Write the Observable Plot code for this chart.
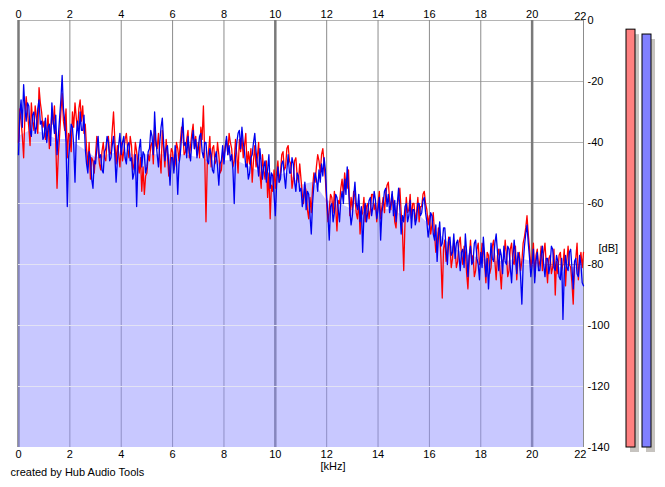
<!DOCTYPE html>
<html><head><meta charset="utf-8">
<script src="https://cdn.jsdelivr.net/npm/d3@7"></script>
<script src="https://cdn.jsdelivr.net/npm/@observablehq/plot@0.6"></script>
<style>
html,body{margin:0;padding:0;background:#fff;}
#wrap{position:relative;width:665px;height:487px;overflow:hidden;background:#fff;}
#wrap svg{position:absolute;top:0;}
</style></head><body><div id="wrap"></div>
<script>
// frequency bin spacing (kHz)
const binKHz = 0.05;
// red trace (left channel), dB, one value per 0.05 kHz from 0 to 22 kHz (one row per kHz)
const leftDb = [
 -40,-29,-33,-38,-45,-31,-25,-30,-35,-41,-27,-33,-36,-28,-32,-37,-22,-27,-30,-35,
 -33,-39,-36,-31,-42,-37,-30,-34,-28,-40,-55,-44,-38,-30,-24,-33,-36,-29,-45,-37,
 -38,-43,-30,-35,-27,-32,-36,-29,-26,-33,-28,-37,-34,-42,-48,-40,-52,-45,-46,-50,
 -44,-38,-42,-47,-49,-43,-40,-45,-46,-39,-38,-44,-43,-36,-30,-39,-47,-41,-44,-48,
 -40,-46,-43,-39,-37,-42,-45,-38,-41,-49,-47,-40,-43,-47,-50,-45,-56,-48,-57,-51,
 -50,-44,-46,-41,-40,-47,-35,-41,-42,-37,-45,-50,-36,-42,-48,-39,-44,-51,-47,-42,
 -43,-49,-47,-40,-42,-46,-40,-35,-37,-44,-43,-39,-36,-45,-41,-37,-34,-42,-38,-44,
 -40,-45,-35,-39,-28,-44,-66,-47,-43,-38,-48,-42,-41,-47,-46,-40,-44,-50,-49,-43,
 -45,-41,-39,-44,-37,-40,-42,-48,-46,-39,-44,-50,-39,-43,-38,-45,-41,-37,-48,-43,
 -47,-42,-53,-46,-41,-48,-45,-40,-50,-55,-44,-49,-52,-46,-58,-50,-65,-54,-56,-49,
 -55,-50,-46,-53,-50,-44,-43,-49,-48,-42,-41,-46,-47,-55,-52,-46,-45,-51,-53,-47,
 -52,-57,-60,-54,-56,-62,-65,-58,-63,-55,-50,-53,-48,-44,-46,-50,-44,-42,-47,-52,
 -60,-66,-62,-57,-58,-63,-56,-61,-69,-59,-60,-55,-52,-57,-50,-54,-55,-49,-64,-58,
 -62,-56,-58,-63,-65,-59,-70,-64,-63,-58,-66,-61,-60,-65,-62,-57,-57,-62,-60,-66,
 -60,-56,-65,-61,-58,-63,-57,-54,-53,-59,-62,-57,-60,-66,-68,-61,-58,-55,-63,-69,
 -82,-66,-58,-63,-62,-57,-65,-60,-60,-66,-63,-58,-66,-61,-61,-57,-56,-60,-62,-67,
 -64,-70,-67,-63,-70,-76,-74,-68,-70,-78,-91,-75,-72,-79,-77,-71,-74,-81,-78,-72,
 -75,-81,-79,-73,-71,-77,-80,-74,-76,-83,-88,-78,-72,-79,-77,-84,-82,-75,-73,-80,
 -79,-73,-74,-80,-86,-76,-77,-83,-81,-74,-72,-79,-85,-77,-75,-82,-88,-79,-78,-72,
 -77,-84,-82,-75,-73,-79,-80,-74,-85,-78,-76,-82,-79,-73,-71,-68,-64,-70,-75,-81,
 -78,-73,-84,-77,-75,-81,-79,-74,-82,-76,-73,-80,-86,-78,-77,-83,-81,-75,-90,-79,
 -83,-77,-76,-82,-80,-75,-87,-79,-74,-80,-81,-86,-93,-80,-78,-73,-85,-79,-76,-81,
 -76
];
// blue trace (right channel)
const rightDb = [
 -44,-31,-26,-35,-21,-29,-33,-27,-28,-36,-38,-31,-30,-37,-35,-29,-26,-34,-33,-39,
 -38,-32,-40,-35,-34,-41,-27,-33,-37,-31,-44,-38,-32,-26,-18,-29,-33,-40,-61,-45,
 -40,-34,-35,-41,-53,-38,-33,-39,-30,-36,-36,-31,-42,-47,-50,-43,-45,-52,-55,-46,
 -47,-42,-38,-45,-44,-49,-50,-43,-42,-38,-40,-46,-45,-41,-38,-44,-53,-46,-41,-37,
 -44,-40,-38,-45,-47,-41,-40,-46,-45,-52,-50,-44,-61,-47,-42,-39,-48,-43,-44,-50,
 -48,-43,-42,-36,-38,-44,-30,-39,-44,-48,-40,-35,-32,-40,-46,-42,-41,-47,-54,-45,
 -45,-50,-41,-46,-57,-47,-44,-38,-32,-41,-40,-45,-38,-43,-46,-40,-36,-42,-39,-45,
 -42,-38,-37,-43,-45,-40,-40,-46,-47,-42,-44,-49,-50,-45,-43,-48,-54,-47,-46,-41,
 -47,-42,-38,-44,-41,-46,-44,-49,-60,-45,-40,-37,-36,-42,-35,-40,-43,-48,-47,-52,
 -50,-45,-44,-40,-37,-43,-47,-51,-42,-47,-52,-48,-46,-53,-49,-44,-55,-50,-51,-57,
 -64,-54,-48,-53,-52,-47,-46,-51,-55,-49,-44,-50,-50,-45,-47,-53,-56,-50,-51,-56,
 -55,-61,-58,-53,-62,-56,-57,-64,-70,-60,-54,-50,-52,-56,-49,-53,-47,-51,-45,-49,
 -58,-64,-72,-61,-60,-66,-63,-57,-58,-62,-66,-59,-56,-60,-52,-57,-48,-55,-62,-67,
 -64,-58,-53,-60,-62,-57,-66,-61,-76,-64,-60,-66,-63,-59,-58,-64,-61,-56,-59,-65,
 -62,-58,-72,-63,-60,-56,-55,-61,-57,-63,-60,-56,-64,-59,-66,-60,-55,-62,-70,-64,
 -66,-61,-60,-66,-64,-59,-68,-62,-62,-67,-65,-60,-60,-64,-63,-59,-58,-63,-66,-71,
 -68,-63,-64,-70,-72,-67,-79,-71,-66,-74,-73,-68,-68,-75,-80,-72,-71,-77,-76,-70,
 -78,-73,-72,-77,-82,-76,-75,-81,-70,-76,-84,-77,-74,-80,-79,-73,-72,-78,-80,-85,
 -76,-81,-71,-77,-84,-78,-88,-80,-73,-78,-79,-73,-70,-76,-82,-75,-77,-83,-74,-79,
 -80,-74,-75,-81,-86,-78,-72,-77,-83,-76,-78,-84,-93,-80,-74,-70,-67,-73,-78,-84,
 -80,-75,-86,-79,-76,-82,-82,-77,-74,-80,-84,-78,-78,-83,-80,-74,-75,-81,-82,-77,
 -79,-84,-85,-78,-98,-83,-77,-81,-82,-76,-75,-81,-88,-79,-78,-83,-84,-77,-80,-86,
 -87
];
// averaged spectrum (filled area), one value per 0.5 kHz
const avgKHz = 0.5;
const avgDb = [
 -38,-36,-37,-39,-39,-42,-45,-44,-43,-44,
 -44,-44,-44,-44,-45,-46,-46,-46,-48,-50,
 -51,-50,-54,-53,-59,-60,-62,-63,-62,-62,
 -64,-63,-67,-71,-75,-77,-78,-79,-79,-78,
 -79,-80,-81,-81,-81
];
const kHzTicks = [0,2,4,6,8,10,12,14,16,18,20,22];
const lastKHz = [22];
const majorKHz = [0,10,20];
const dbTicks = [0,-20,-40,-60,-80,-100,-120,-140];
const gridDb = [0,-20,-40,-60,-80,-100,-120];
const floorDb = -140;
const meterChannels = ["L","R"];
const meterDb = [-3,-4.6];
const meterColors = ["#ff8080","#8080ff"];

const spec = leftDb.map((v,i)=>({f: Math.round(i*binKHz*1000)/1000, left: v, right: rightDb[i]}));
const avg = avgDb.map((v,i)=>({f: i*avgKHz, db: v}));
const meterData = meterChannels.map((c,i)=>({ch: c, db: meterDb[i], color: meterColors[i]}));

const font = "'Liberation Sans', Arial, sans-serif";
const innerTicks = kHzTicks.filter(t => !lastKHz.includes(t));

const main = Plot.plot({
  width: 665, height: 487,
  marginLeft: 18, marginRight: 82, marginTop: 20, marginBottom: 40,
  style: {fontFamily: font, fontSize: "11px", background: "transparent", color: "black", overflow: "visible"},
  x: {domain: [0,22]},
  y: {domain: [floorDb, 0]},
  marks: [
    Plot.ruleY(gridDb, {stroke: "#b4b4b4", strokeWidth: 1}),
    Plot.ruleX(kHzTicks.filter(t => !majorKHz.includes(t)), {stroke: "#8c8c8c", strokeWidth: 1}),
    Plot.ruleX(majorKHz, {stroke: "#7a7a7a", strokeWidth: 2.5}),
    Plot.areaY(avg, {x: "f", y1: floorDb, y2: "db", fill: "#9191ff", fillOpacity: 0.5}),
    Plot.ruleY(gridDb, {stroke: "#e2e2f4", strokeWidth: 1, className: "fillgrid"}),
    Plot.lineY(spec, {x: "f", y: "left", stroke: "#ff0000", strokeWidth: 1.3}),
    Plot.lineY(spec, {x: "f", y: "right", stroke: "#0000f0", strokeWidth: 1.3}),
    Plot.axisX({anchor: "top", ticks: innerTicks, tickSize: 0, tickPadding: 3, label: null, tickFormat: d => String(d)}),
    Plot.axisX({anchor: "bottom", ticks: innerTicks, tickSize: 0, tickPadding: 3, label: null, tickFormat: d => String(d)}),
    Plot.text(lastKHz, {x: d => d, text: d => String(d), frameAnchor: "top", dy: -8, dx: 3, textAnchor: "end"}),
    Plot.text(lastKHz, {x: d => d, text: d => String(d), frameAnchor: "bottom", dy: 10, dx: 3, textAnchor: "end"}),
    Plot.axisY({anchor: "right", ticks: dbTicks, tickSize: 0, tickPadding: 4, label: null, tickFormat: d => String(d)}),
    Plot.text(["[dB]"], {text: d => d, frameAnchor: "right", dx: 15, dy: 14, textAnchor: "start"}),
    Plot.text(["[kHz]"], {text: d => d, frameAnchor: "bottom", dx: 32, dy: 22}),
    Plot.text(["created by Hub Audio Tools"], {text: d => d, frameAnchor: "bottom-left", dx: -8, dy: 28, textAnchor: "start"})
  ]
});

// clip the light grid lines to the filled area
(function(){
  const ns = "http://www.w3.org/2000/svg";
  const ap = main.querySelector('g[aria-label="area"] path');
  const fg = main.querySelector('g.fillgrid') || main.querySelectorAll('g[aria-label="rule"]')[3];
  if (ap && fg) {
    const defs = document.createElementNS(ns, "defs");
    const cp = document.createElementNS(ns, "clipPath");
    cp.setAttribute("id", "fillclip");
    const p = document.createElementNS(ns, "path");
    p.setAttribute("d", ap.getAttribute("d"));
    cp.appendChild(p); defs.appendChild(cp);
    main.insertBefore(defs, main.firstChild);
    fg.setAttribute("clip-path", "url(#fillclip)");
  }
})();

const meters = Plot.plot({
  width: 65, height: 487,
  marginTop: 20, marginBottom: 40, marginLeft: 0, marginRight: 0,
  style: {background: "transparent", overflow: "visible"},
  x: {type: "band", domain: meterChannels, range: [25.5, 50.5], paddingInner: 0.4375, paddingOuter: 0, axis: null},
  y: {domain: [floorDb, 0], axis: null},
  color: {type: "identity"},
  marks: [
    Plot.barY(meterData, {x: "ch", y1: floorDb, y2: "db", fill: "#c6c3bf", dx: 4, dy: 5}),
    Plot.barY(meterData, {x: "ch", y1: floorDb, y2: "db", fill: d => d.color, stroke: "black", strokeWidth: 1})
  ]
});

const wrap = document.getElementById("wrap");
main.style.left = "0px";
meters.style.left = "600px";
wrap.appendChild(main);
wrap.appendChild(meters);
</script>
</body></html>
